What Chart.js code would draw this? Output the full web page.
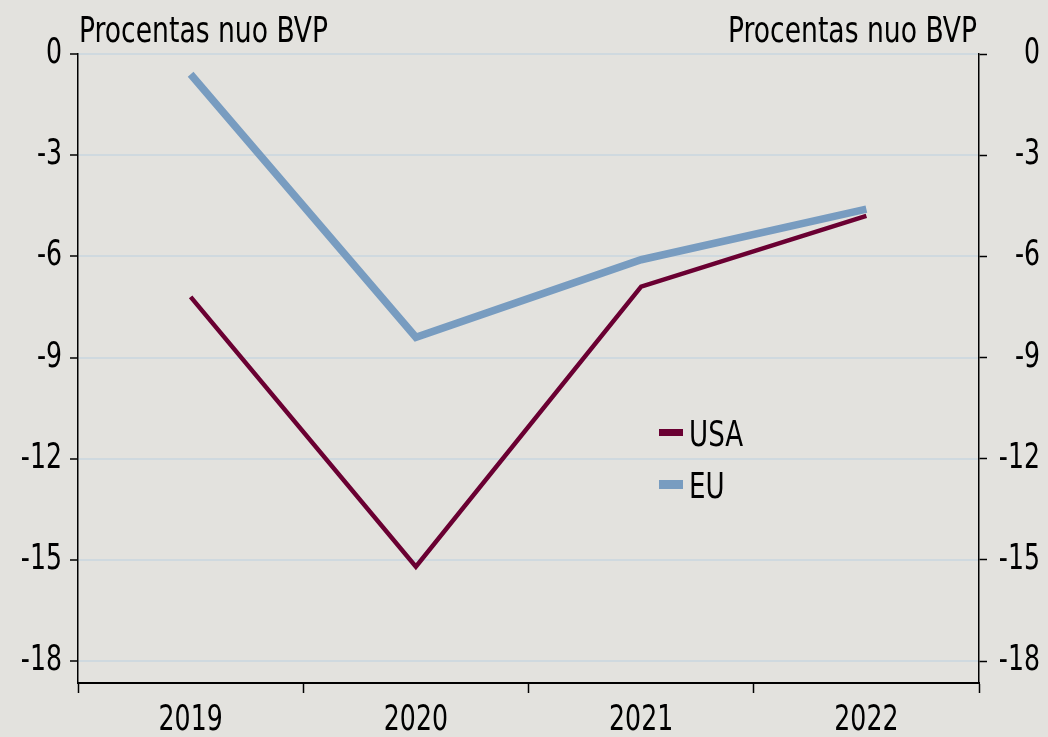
<!DOCTYPE html>
<html>
<head>
<meta charset="utf-8">
<script src="https://cdn.jsdelivr.net/npm/chart.js@4/dist/chart.umd.min.js"></script>
<style>
  html, body { margin: 0; padding: 0; background: #e3e2de; }
  #wrap { width: 1048px; height: 737px; }
</style>
</head>
<body>
<div id="wrap"><canvas id="deficitChart" width="1048" height="737"></canvas></div>
<script>
const years = ['2019', '2020', '2021', '2022'];
const usaValues = [-7.2, -15.2, -6.9, -4.8];
const euValues = [-0.6, -8.4, -6.1, -4.6];
const yTicks = [0, -3, -6, -9, -12, -15, -18];
const axisTitle = 'Procentas nuo BVP';

const FONT = '"DejaVu Sans Condensed", "DejaVu Sans", sans-serif';
const FONT_SIZE = 35;

// the original font is narrower than anything installed, so squeeze text horizontally
const canvas = document.getElementById('deficitChart');
const c2d = canvas.getContext('2d');
const rawFill = c2d.fillText.bind(c2d);
const rawMeasure = c2d.measureText.bind(c2d);
let textScale = 0.8;
c2d.fillText = function (t, x, y) {
    this.save();
    this.translate(x, y);
    this.scale(textScale, 1);
    rawFill(t, 0, 0);
    this.restore();
};
c2d.measureText = function (t) {
    const m = rawMeasure(t);
    return {
        width: m.width * textScale,
        actualBoundingBoxAscent: m.actualBoundingBoxAscent,
        actualBoundingBoxDescent: m.actualBoundingBoxDescent
    };
};

// axis captions above both y axes + legend inside the plot
const extras = {
    id: 'extras',
    afterDraw(chart) {
        const ctx = chart.ctx;
        const area = chart.chartArea;
        ctx.save();
        ctx.fillStyle = '#000';
        ctx.font = FONT_SIZE + 'px ' + FONT;
        ctx.textBaseline = 'alphabetic';
        textScale = 0.845;
        ctx.textAlign = 'left';
        ctx.fillText(axisTitle, area.left + 1, 42);
        ctx.textAlign = 'right';
        ctx.fillText(axisTitle, area.right - 2, 42);

        // legend
        const items = [
            { ds: chart.data.datasets[0], y: 432.5, h: 7, base: 446 },
            { ds: chart.data.datasets[1], y: 484.5, h: 9, base: 498 }
        ];
        textScale = 0.83;
        ctx.textAlign = 'left';
        items.forEach(it => {
            ctx.fillStyle = it.ds.borderColor;
            ctx.fillRect(659, it.y - it.h / 2, 24, it.h);
            ctx.fillStyle = '#000';
            ctx.fillText(it.ds.label, 689, it.base);
        });
        textScale = 0.8;
        ctx.restore();
    }
};

const bg = {
    id: 'bg',
    beforeDraw(chart) {
        const ctx = chart.ctx;
        ctx.save();
        ctx.fillStyle = '#e3e2de';
        ctx.fillRect(0, 0, chart.width, chart.height);
        ctx.restore();
    }
};

const setTicks = axis => { axis.ticks = yTicks.map(v => ({ value: v })); };

const deficitChart = new Chart(canvas, {
    type: 'line',
    data: {
        labels: years,
        datasets: [{
            label: 'USA',
            data: usaValues,
            borderColor: '#6a0032',
            borderWidth: 4.5,
            pointRadius: 0,
            tension: 0,
            borderCapStyle: 'butt',
            order: 1,
            yAxisID: 'y'
        }, {
            label: 'EU',
            data: euValues,
            borderColor: '#789cc0',
            borderWidth: 7.5,
            pointRadius: 0,
            tension: 0,
            borderCapStyle: 'butt',
            order: 0,
            yAxisID: 'y'
        }]
    },
    options: {
        responsive: false,
        animation: false,
        layout: { padding: { top: 54, bottom: 0, left: 0, right: 8 } },
        plugins: {
            legend: { display: false },
            tooltip: { enabled: false }
        },
        scales: {
            x: {
                offset: true,
                grid: {
                    offset: true,
                    drawOnChartArea: false,
                    drawTicks: true,
                    tickLength: 10,
                    tickColor: '#000',
                    tickWidth: 1.5
                },
                border: { color: '#000', width: 2 },
                ticks: {
                    color: '#000',
                    font: { family: FONT, size: FONT_SIZE },
                    padding: 7,
                    maxRotation: 0
                },
                afterFit(axis) { axis.height = 54; }
            },
            y: {
                position: 'left',
                min: -18.65,
                max: 0,
                afterBuildTicks: setTicks,
                grid: {
                    color: '#cfd9df',
                    lineWidth: 2,
                    tickColor: '#000',
                    tickLength: 8,
                    tickWidth: 1.5
                },
                border: { color: '#000', width: 1.5 },
                ticks: {
                    color: '#000',
                    font: { family: FONT, size: FONT_SIZE },
                    padding: 8
                },
                afterFit(axis) { axis.width = 78; }
            },
            y2: {
                position: 'right',
                min: -18.65,
                max: 0,
                afterBuildTicks: setTicks,
                grid: {
                    drawOnChartArea: false,
                    tickColor: '#000',
                    tickLength: 8,
                    tickWidth: 1.5
                },
                border: { color: '#000', width: 1.5 },
                ticks: {
                    color: '#000',
                    font: { family: FONT, size: FONT_SIZE },
                    crossAlign: 'far',
                    padding: 8
                },
                afterFit(axis) { axis.width = 61; }
            }
        }
    },
    plugins: [bg, extras]
});
</script>
</body>
</html>
